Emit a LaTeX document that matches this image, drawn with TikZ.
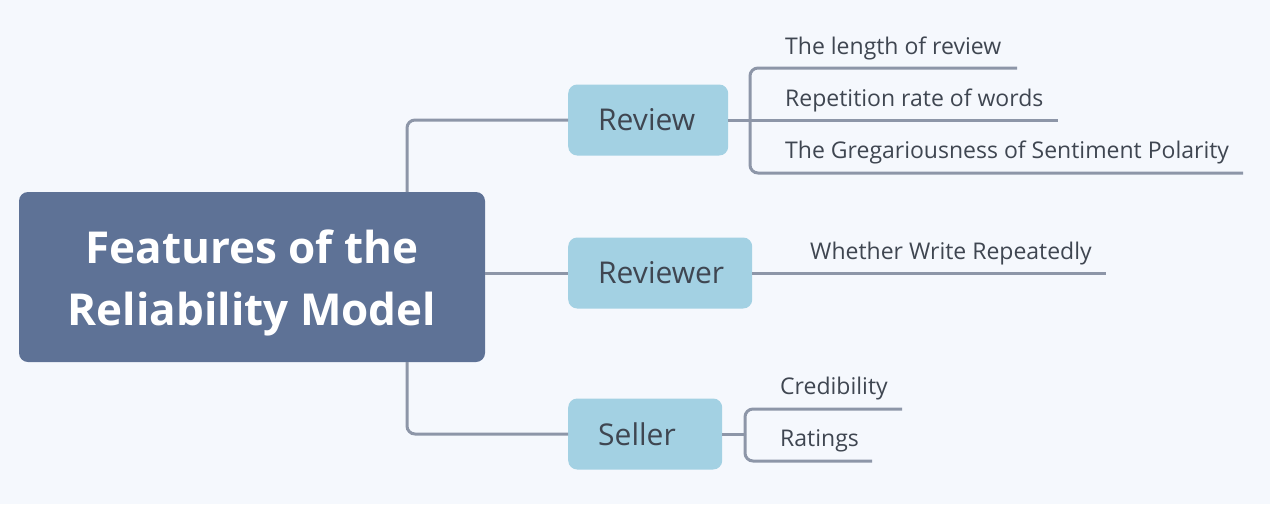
\documentclass[tikz,border=0pt]{standalone}
\usepackage{fontspec}
\setmainfont{Open Sans}
\definecolor{bg}{HTML}{F5F8FD}
\definecolor{rootfill}{HTML}{5E7296}
\definecolor{subfill}{HTML}{A3D1E3}
\definecolor{linec}{HTML}{8D96A8}
\definecolor{txt}{HTML}{3F4651}
\begin{document}
\begin{tikzpicture}[x=1pt,y=-1pt,
  rootbox/.style={fill=rootfill, rounded corners=9pt, minimum width=466pt, minimum height=170pt, inner sep=0pt, text=white, font=\fontsize{44}{62}\selectfont\bfseries},
  subbox/.style={fill=subfill, rounded corners=9pt, minimum height=71pt, inner ysep=0pt, inner xsep=30pt, anchor=west, text=txt, font=\fontsize{30}{36}\selectfont, align=left},
  leaf/.style={anchor=base west, inner sep=0pt, text=txt, font=\fontsize{23}{28}\selectfont},
  conn/.style={draw=linec, line width=3pt, rounded corners=8pt}
]
\fill[bg] (0,0) rectangle (1270,504);
\useasboundingbox (0,0) rectangle (1270,504);

\node[rootbox] (root) at (252,277) {\raisebox{-5pt}[\height][\depth]{\begin{tabular}{@{}c@{}}Features of the\\[0pt]Reliability Model\end{tabular}}};
\node[subbox, text width=100pt] (review) at (568,120) {Review};
\node[subbox, text width=124pt] (reviewer) at (568,273) {Reviewer};
\node[subbox, text width=94pt] (seller) at (568,434) {Seller};

\node[leaf] (l1) at (785,54) {The length of review};
\node[leaf] (l2) at (785,106) {Repetition rate of words};
\node[leaf] (l3) at (785,158) {The Gregariousness of Sentiment Polarity};
\node[leaf] (l4) at (810,259) {Whether Write Repeatedly};
\node[leaf] (l5) at (780,394) {Credibility};
\node[leaf] (l6) at (780,446) {Ratings};

\coordinate (rtop) at (407,192);
\coordinate (rbot) at (407,362);
\coordinate (b1) at (750,120);
\coordinate (e1) at (1017,68);
\coordinate (e2) at (1058,120);
\coordinate (e3) at (1243,173);
\coordinate (e4) at (1106,273);
\coordinate (b3) at (745,434);
\coordinate (e5) at (902,409);
\coordinate (e6) at (872,461);

\draw[conn] (rtop) |- (review.west);
\draw[conn] (rbot) |- (seller.west);
\draw[conn] (root.east |- reviewer.west) -- (reviewer.west);

\draw[conn] (review.east) -- (e2);
\draw[conn] (b1) |- (e1);
\draw[conn] (b1) |- (e3);

\draw[conn] (reviewer.east) -- (e4);

\draw[conn] (seller.east) -- (b3);
\draw[conn] (b3) |- (e5);
\draw[conn] (b3) |- (e6);
\end{tikzpicture}
\end{document}
